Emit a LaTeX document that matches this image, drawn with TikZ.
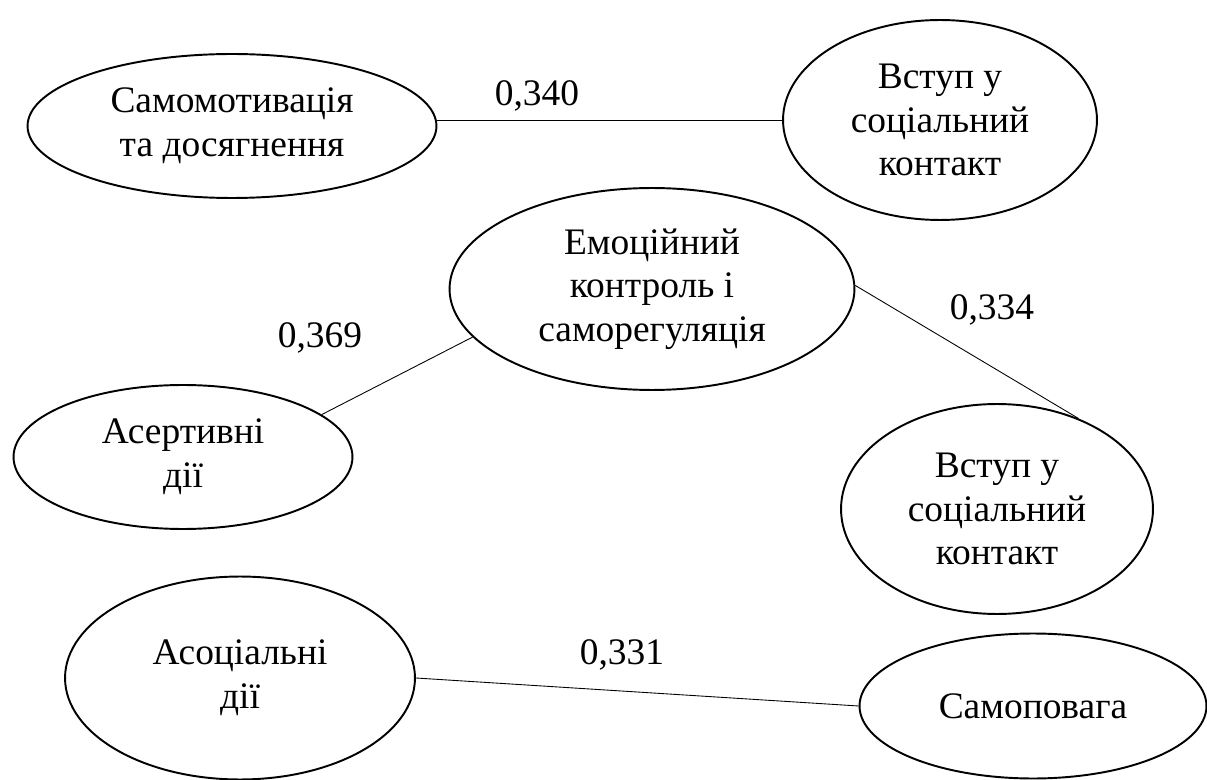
\documentclass[tikz,border=0pt]{standalone}
\usepackage{fontspec}
\setmainfont{Liberation Serif}
\usetikzlibrary{shapes.geometric}

\begin{document}
\begin{tikzpicture}[x=0.02cm,y=-0.02cm,
    factor/.style={draw,ellipse,line width=1.1pt,inner sep=0pt,align=center,
        font=\fontsize{21.3}{24.8}\selectfont},
    link/.style={line width=0.5pt},
    coef/.style={inner sep=0pt,font=\fontsize{21.3}{24.8}\selectfont}]
        \useasboundingbox (0,0) rectangle (1207,780);
        \node[factor,minimum width=8.18cm,minimum height=2.88cm] (samo) at (232,126) {Самомотивація\\та досягнення};
        \node[factor,minimum width=6.28cm,minimum height=4.0cm] (vstupA) at (940,120) {Вступ у\\соціальний\\контакт};
        \node[factor,minimum width=8.1cm,minimum height=4.04cm] (emo) at (652,289) {Емоційний\\контроль і\\саморегуляція};
        \node[factor,minimum width=6.78cm,minimum height=2.88cm] (asert) at (183,457) {Асертивні\\дії};
        \node[factor,minimum width=6.24cm,minimum height=4.2cm] (vstupB) at (997,509) {Вступ у\\соціальний\\контакт};
        \node[factor,minimum width=7.0cm,minimum height=4.06cm] (asoc) at (240,678) {Асоціальні\\дії};
        \node[factor,minimum width=6.94cm,minimum height=2.9cm] (samop) at (1033,706) {Самоповага};
        \draw[link] (samo.east |- vstupA.west) -- (vstupA.west);
        \draw[link] (emo.195) -- (asert.17);
        \draw[link] (emo.1) -- (vstupB.48);
        \draw[link] (asoc.east) -- (samop.west);
        \node[coef] (rA) at (537,96) {0,340};
        \node[coef] (rB) at (320,338) {0,369};
        \node[coef] (rC) at (992,310) {0,334};
        \node[coef] (rD) at (622,655) {0,331};
    \end{tikzpicture}
\end{document}
